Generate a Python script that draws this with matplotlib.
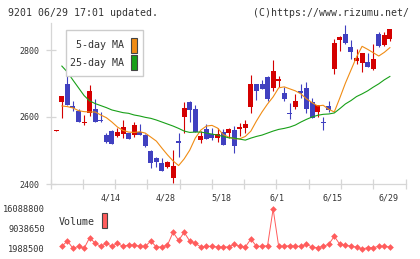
import numpy as np
import matplotlib.pyplot as plt
from matplotlib.patches import Rectangle

plt.rcParams['font.family'] = ['DejaVu Sans Mono']

# ---- data (JAL 9201, 2022/03/31 - 06/29) ----
opens = [2557, 2645, 2699, 2634, 2617, 2583, 2613, 2624, 2589, 2545,
         2558, 2543, 2549, 2551, 2546, 2555, 2546, 2499, 2477, 2464,
         2452, 2419, 2529, 2599, 2646, 2624, 2531, 2564, 2548, 2538,
         2556, 2553, 2561, 2564, 2566, 2631, 2699, 2699, 2720, 2687,
         2707, 2672, 2613, 2631, 2678, 2686, 2645, 2616, 2584, 2633,
         2743, 2830, 2848, 2808, 2768, 2760, 2763, 2743, 2848, 2815, 2833]
highs = [2560, 2663, 2735, 2648, 2623, 2605, 2695, 2654, 2616, 2551,
         2560, 2566, 2591, 2553, 2586, 2578, 2548, 2501, 2481, 2479,
         2468, 2501, 2551, 2645, 2648, 2636, 2559, 2579, 2568, 2567,
         2564, 2568, 2573, 2581, 2591, 2725, 2699, 2710, 2722, 2770,
         2722, 2690, 2643, 2669, 2699, 2705, 2656, 2636, 2599, 2648,
         2833, 2842, 2875, 2830, 2803, 2792, 2790, 2818, 2853, 2853, 2862]
lows = [2557, 2598, 2636, 2618, 2584, 2576, 2604, 2586, 2586, 2522,
        2518, 2539, 2536, 2534, 2541, 2545, 2511, 2449, 2450, 2440,
        2448, 2404, 2480, 2551, 2586, 2554, 2523, 2534, 2531, 2525,
        2516, 2536, 2493, 2543, 2551, 2613, 2651, 2684, 2649, 2678,
        2690, 2648, 2594, 2624, 2656, 2613, 2598, 2601, 2561, 2616,
        2728, 2798, 2818, 2772, 2758, 2735, 2750, 2740, 2808, 2812, 2828]
closes = [2560, 2663, 2636, 2626, 2584, 2585, 2678, 2586, 2587, 2525,
          2519, 2556, 2569, 2535, 2576, 2545, 2513, 2462, 2466, 2440,
          2466, 2454, 2523, 2627, 2621, 2554, 2543, 2534, 2538, 2548,
          2516, 2563, 2513, 2571, 2579, 2699, 2679, 2684, 2653, 2737,
          2713, 2655, 2609, 2648, 2671, 2623, 2598, 2636, 2581, 2621,
          2820, 2838, 2822, 2795, 2777, 2792, 2750, 2772, 2813, 2845, 2862]

ma5 = [np.nan, 2633, 2631, 2627, 2619, 2616, 2615, 2615, 2606, 2598,
       2585, 2570, 2560, 2555, 2554, 2556, 2552, 2540, 2528, 2507,
       2487, 2469, 2455, 2475, 2501, 2537, 2561, 2573, 2575, 2567,
       2548, 2540, 2535, 2535, 2542, 2558, 2588, 2615, 2639, 2660,
       2687, 2690, 2684, 2678, 2669, 2654, 2643, 2633, 2635, 2623,
       2615, 2657, 2701, 2740, 2779, 2811, 2802, 2792, 2782, 2793, 2807]
ma25 = [np.nan, 2752, 2734, 2710, 2687, 2664, 2648, 2640, 2634, 2628,
        2621, 2617, 2613, 2611, 2606, 2603, 2599, 2596, 2591, 2585,
        2579, 2573, 2566, 2558, 2554, 2555, 2555, 2552, 2549, 2546,
        2542, 2538, 2537, 2534, 2531, 2537, 2542, 2546, 2552, 2558,
        2563, 2566, 2570, 2576, 2585, 2593, 2600, 2605, 2608, 2609,
        2612, 2625, 2639, 2649, 2661, 2669, 2678, 2689, 2699, 2711, 2721]

# volume from the 2nd day on
volume = [2929000, 4809000, 2224000, 2929000, 2224000, 5984000, 3986000, 2929000, 3986000, 2929000,
          3986000, 2929000, 3399000, 3399000, 2929000, 2929000, 4809000, 2694000, 2694000, 3399000,
          7864000, 5044000, 7864000, 4809000, 3986000, 2694000, 2929000, 2929000, 2694000, 2694000,
          2694000, 3634000, 2929000, 2694000, 5514000, 2929000, 2929000, 3164000, 16088800, 2929000,
          2929000, 3164000, 2929000, 2929000, 3634000, 2694000, 2459000, 2929000, 3634000, 6454000,
          3634000, 3399000, 2929000, 2694000, 1988500, 2459000, 2459000, 2929000, 2929000, 2694000]

date_labels = ['4/14', '4/28', '5/18', '6/1', '6/15', '6/29']
date_idx = [10, 20, 30, 40, 50, 60]
price_ticks = [2400, 2600, 2800]
vol_ticks = [1988500, 9038650, 16088800]

RED = '#d40000'
BLUE = '#4040c0'
ORANGE = '#f08c14'
GREEN = '#18a018'
VOLC = '#ff5c5c'
GRID = '#d6d6d6'
TXT = '#333333'

W, H = 420, 259


def fx(px):
    return px / W


def fy(py):
    return 1 - py / H


fig = plt.figure(figsize=(4.2, 2.59), dpi=100)

days = np.arange(len(closes))
xlim = (-1.043, 62.81)

# ---- price panel ----
ax = fig.add_axes([fx(50.5), fy(184), fx(405.5) - fx(50.5), 160.8 / H])
ax.set_xlim(*xlim)
ax.set_ylim(2400, 2880)

o = np.array(opens)
c = np.array(closes)
up = c >= o
cols = np.where(up, RED, BLUE)
body_lo = np.minimum(o, c)
body_h = np.maximum(np.abs(c - o), 3.5)

ax.vlines(days, lows, highs, colors=cols, linewidth=0.8, zorder=2)
ax.bar(days, body_h, bottom=body_lo, width=0.9, color=cols, linewidth=0, zorder=2)

ax.plot(days, ma5, color=ORANGE, lw=0.8, zorder=3)
ax.plot(days, ma25, color=GREEN, lw=0.8, zorder=3)

for s in ['top', 'right']:
    ax.spines[s].set_visible(False)
for s in ['left', 'bottom']:
    ax.spines[s].set_color(GRID)
    ax.spines[s].set_linewidth(0.9)

ax.set_xticks(np.linspace(xlim[0], xlim[1], 12))
ax.set_xticklabels([])
ax.tick_params(axis='x', direction='inout', length=6.5, width=0.9, color=GRID)
ax.set_yticks(price_ticks)
ax.set_yticklabels([str(t) for t in price_ticks])
ax.tick_params(axis='y', direction='inout', length=7.5, width=0.9, color=GRID,
               labelsize=6, labelcolor=TXT, pad=4)

trans = ax.get_xaxis_transform()
for i, lab in zip(date_idx, date_labels):
    ax.text(i - 0.3, -0.089, lab, transform=trans, ha='center', va='center',
            fontsize=6, color=TXT)

# ---- volume panel ----
ax2 = fig.add_axes([fx(50.5), fy(249), fx(405.5) - fx(50.5), 40 / H])
ax2.set_xlim(*xlim)
ax2.set_ylim(vol_ticks[0], vol_ticks[-1])
ax2.plot(days[1:], volume, color=VOLC, lw=0.7, marker='D', ms=3.4,
         markeredgewidth=0, clip_on=False)
for s in ax2.spines.values():
    s.set_visible(False)
ax2.set_xticks([])
ax2.set_yticks(vol_ticks)
ax2.set_yticklabels([str(t) for t in vol_ticks])
ax2.tick_params(axis='y', length=0, labelsize=6.2, labelcolor=TXT, pad=4)
ax2.patch.set_alpha(0)

# ---- legends / header ----
fig.add_artist(Rectangle((fx(65.5), fy(76)), fx(143) - fx(65.5), (76 - 30) / H,
                         transform=fig.transFigure, facecolor='white',
                         edgecolor='#cccccc', linewidth=1.0, zorder=5))
fig.text(fx(124), fy(45.5), '5-day MA', ha='right', va='center', fontsize=7.2,
         color=TXT, zorder=6)
fig.text(fx(124), fy(63), '25-day MA', ha='right', va='center', fontsize=7.2,
         color=TXT, zorder=6)
for top, col in [(37.5, ORANGE), (54.5, GREEN)]:
    fig.add_artist(Rectangle((fx(131), fy(top + 15)), 6 / W, 15 / H,
                             transform=fig.transFigure, facecolor=col,
                             edgecolor='#444444', linewidth=0.8, zorder=6))

fig.text(fx(59), fy(222), 'Volume', ha='left', va='center', fontsize=7.2, color=TXT)
fig.add_artist(Rectangle((fx(101.7), fy(228.3)), 5.6 / W, 15 / H,
                         transform=fig.transFigure, facecolor=VOLC,
                         edgecolor='#444444', linewidth=0.8))

fig.text(fx(8), fy(12.7), '9201 06/29 17:01 updated.', ha='left', va='center',
         fontsize=7.1, color=TXT)
fig.text(fx(409), fy(12.7), '(C)https://www.rizumu.net/', ha='right',
         va='center', fontsize=7.1, color=TXT)

fig.savefig('out.png', dpi=100, facecolor='white')
